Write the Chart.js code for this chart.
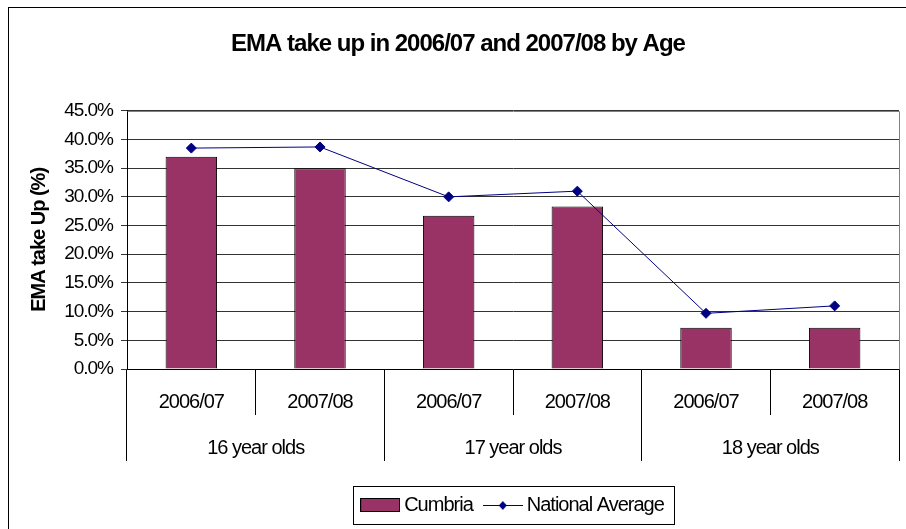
<!DOCTYPE html>
<html>
<head>
<meta charset="utf-8">
<title>EMA take up in 2006/07 and 2007/08 by Age</title>
<script src="https://cdn.jsdelivr.net/npm/chart.js@4.4.1/dist/chart.umd.min.js"></script>
<style>
  html, body { margin: 0; padding: 0; background: #fff; }
  #wrap { width: 906px; height: 529px; }
</style>
</head>
<body>
<div id="wrap"><canvas id="chart"></canvas></div>
<script>
// values (percent)
const yearLabels = ['2006/07', '2007/08', '2006/07', '2007/08', '2006/07', '2007/08'];
const ageGroups = ['16 year olds', '17 year olds', '18 year olds'];
const cumbria = [37.0, 35.0, 26.7, 28.3, 7.2, 7.2];
const nationalAverage = [38.5, 38.7, 30.0, 31.0, 9.7, 11.0];
const yTicks = [0, 5, 10, 15, 20, 25, 30, 35, 40, 45];

const barColour = '#993366';
const lineColour = '#000080';
const fontFamily = "'Liberation Sans', Arial, sans-serif";

// little canvases used as legend symbols (bar block, line with diamond)
function makeSwatch(w, h, draw) {
    const c = document.createElement('canvas');
    c.width = w;
    c.height = h;
    draw(c.getContext('2d'));
    return c;
}
const barSwatch = makeSwatch(40, 14, ctx => {
    ctx.fillStyle = barColour;
    ctx.fillRect(0.5, 0.5, 39, 13);
    ctx.strokeStyle = '#000';
    ctx.lineWidth = 1;
    ctx.strokeRect(0.5, 0.5, 39, 13);
});
const lineSwatch = makeSwatch(40, 12, ctx => {
    ctx.strokeStyle = lineColour;
    ctx.lineWidth = 1;
    ctx.beginPath();
    ctx.moveTo(0, 6.5);
    ctx.lineTo(40, 6.5);
    ctx.stroke();
    ctx.fillStyle = lineColour;
    ctx.beginPath();
    ctx.moveTo(20, 2);
    ctx.lineTo(24, 6.5);
    ctx.lineTo(20, 11);
    ctx.lineTo(16, 6.5);
    ctx.closePath();
    ctx.fill();
});

// Excel-ish narrow text
const tightText = {
    id: 'tightText',
    beforeLayout(chart) { chart.ctx.letterSpacing = '-1px'; },
    beforeDraw(chart) { chart.ctx.letterSpacing = '-1px'; }
};

// move title and legend to where they sit in the reference
const placeBoxes = {
    id: 'placeBoxes',
    afterLayout(chart) {
        const shift = (box, centre) => {
            const d = centre - (box.left + box.right) / 2;
            box.left += d;
            box.right += d;
        };
        if (chart.titleBlock) shift(chart.titleBlock, 458);
        if (chart.legend) shift(chart.legend, 515);
    }
};

// grey plot frame, legend box and outer chart border
const frames = {
    id: 'frames',
    beforeDatasetsDraw(chart) {
        const {ctx, chartArea: a} = chart;
        ctx.save();
        ctx.strokeStyle = '#808080';
        ctx.lineWidth = 1;
        ctx.beginPath();
        ctx.moveTo(Math.round(a.left) + 0.5, Math.round(a.top) + 0.5);
        ctx.lineTo(Math.round(a.right) + 0.5, Math.round(a.top) + 0.5);
        ctx.lineTo(Math.round(a.right) + 0.5, Math.round(a.bottom) + 0.5);
        ctx.stroke();
        ctx.restore();
    },
    afterDraw(chart) {
        const ctx = chart.ctx;
        const boxes = chart.legend.legendHitBoxes;
        ctx.save();
        ctx.strokeStyle = '#000';
        ctx.lineWidth = 1;
        if (boxes.length) {
            const first = boxes[0];
            const last = boxes[boxes.length - 1];
            const mid = first.top + first.height / 2;
            const left = Math.round(first.left - 13) + 0.5;
            const right = Math.round(last.left + last.width + 10) + 0.5;
            ctx.strokeRect(left, Math.round(mid - 19) + 0.5, right - left, 38);
        }
        ctx.strokeRect(8.5, 7.5, 2000, 2000);
        ctx.restore();
    }
};

new Chart(document.getElementById('chart'), {
    type: 'bar',
    data: {
        labels: yearLabels,
        datasets: [
            {
                label: 'Cumbria',
                data: cumbria,
                backgroundColor: barColour,
                borderColor: '#000',
                borderWidth: 1,
                barPercentage: 0.4,
                categoryPercentage: 1,
                order: 1
            },
            {
                type: 'line',
                label: 'National Average',
                data: nationalAverage,
                borderColor: lineColour,
                borderWidth: 1,
                backgroundColor: lineColour,
                pointStyle: 'rectRot',
                pointRadius: 5,
                pointBackgroundColor: lineColour,
                pointBorderColor: lineColour,
                fill: false,
                tension: 0,
                order: 0
            }
        ]
    },
    options: {
        responsive: true,
        maintainAspectRatio: false,
        animation: false,
        events: [],
        layout: { padding: { left: 0, right: 7, top: 0, bottom: 4 } },
        scales: {
            x: {
                position: 'bottom',
                offset: true,
                grid: { drawOnChartArea: false, offset: true, tickLength: 46, color: '#000' },
                border: { display: true, color: '#000' },
                ticks: { color: '#000', font: { family: fontFamily, size: 20 }, padding: -25, autoSkip: false, maxRotation: 0 },
                afterFit(scale) { scale.height = 46; }
            },
            x2: {
                type: 'category',
                labels: ageGroups,
                position: 'bottom',
                offset: true,
                grid: { drawOnChartArea: false, offset: true, tickLength: 46, color: '#000' },
                border: { display: false },
                ticks: { color: '#000', font: { family: fontFamily, size: 20 }, padding: -25, autoSkip: false, maxRotation: 0 },
                afterFit(scale) { scale.height = 64; }
            },
            y: {
                min: 0,
                max: 45,
                afterBuildTicks(scale) { scale.ticks = yTicks.map(v => ({ value: v })); },
                grid: { color: '#333', tickLength: 6 },
                border: { display: true, color: '#000' },
                ticks: {
                    color: '#000',
                    font: { family: fontFamily, size: 19 },
                    padding: 8,
                    callback: v => v.toFixed(1) + '%'
                },
                title: {
                    display: true,
                    text: 'EMA take Up (%)',
                    color: '#000',
                    font: { family: fontFamily, size: 20, weight: 'bold' },
                    padding: { top: 27, bottom: 0 }
                },
                afterFit(scale) { scale.width = 127; }
            }
        },
        plugins: {
            title: {
                display: true,
                text: 'EMA take up in 2006/07 and 2007/08 by Age',
                color: '#000',
                font: { family: fontFamily, size: 24, weight: 'bold' },
                padding: { top: 30, bottom: 52 }
            },
            legend: {
                position: 'bottom',
                labels: {
                    color: '#000',
                    font: { family: fontFamily, size: 20 },
                    usePointStyle: true,
                    pointStyleWidth: 28,
                    boxHeight: 14,
                    padding: 16,
                    generateLabels(chart) {
                        const items = Chart.defaults.plugins.legend.labels.generateLabels(chart);
                        items.sort((a, b) => a.datasetIndex - b.datasetIndex);
                        items.forEach(item => {
                            item.pointStyle = item.datasetIndex === 0 ? barSwatch : lineSwatch;
                        });
                        return items;
                    }
                }
            },
            tooltip: { enabled: false }
        }
    },
    plugins: [tightText, placeBoxes, frames]
});
</script>
</body>
</html>
